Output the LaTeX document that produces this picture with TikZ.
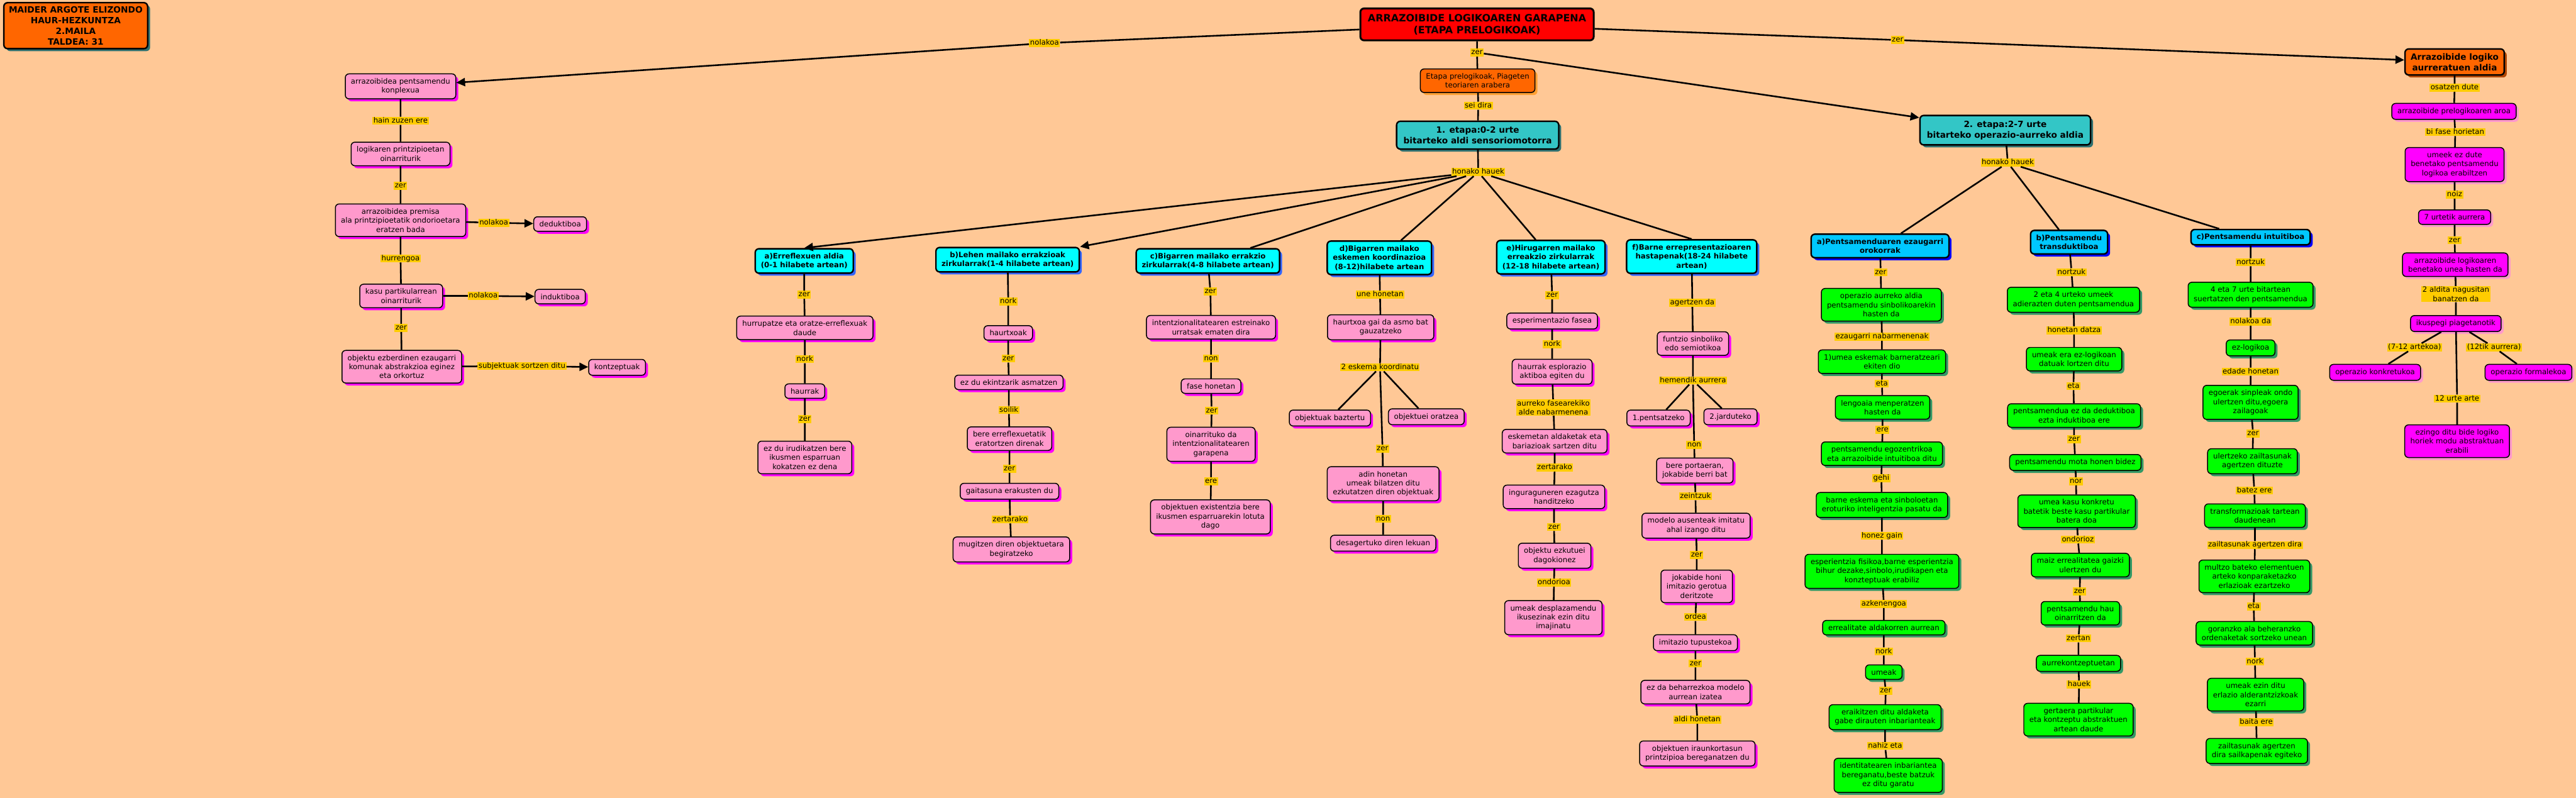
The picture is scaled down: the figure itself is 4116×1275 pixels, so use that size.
\documentclass[tikz,border=0pt]{standalone}
\usepackage{fontspec}
\setmainfont{DejaVu Sans}
\usetikzlibrary{arrows.meta,shadows}
\definecolor{bgpeach}{HTML}{FFC896}
\definecolor{lblgold}{HTML}{FFCC00}
\definecolor{cmpink}{HTML}{FF99CC}
\definecolor{cmmagenta}{HTML}{FF00FF}
\definecolor{cmgreen}{HTML}{00FF00}
\definecolor{cmgreenshade}{HTML}{339966}
\definecolor{cmcyan}{HTML}{00FFFF}
\definecolor{cmcyanshade}{HTML}{3366FF}
\definecolor{cmsky}{HTML}{00C8FF}
\definecolor{cmskyshade}{HTML}{0000FF}
\definecolor{cmteal}{HTML}{33C6C6}
\definecolor{cmtealshade}{HTML}{2F7070}
\definecolor{cmorange}{HTML}{FF6600}
\definecolor{cmorangeshade}{HTML}{FFA033}
\definecolor{cmbrown}{HTML}{B34700}
\definecolor{cmred}{HTML}{FF0000}
\newcommand{\cmfont}{\fontsize{11.8}{14.5}\selectfont}
\newcommand{\cmbold}{\fontsize{11.8}{14.5}\selectfont\bfseries}
\newcommand{\cmbig}{\fontsize{13.7}{17}\selectfont\bfseries}
\newcommand{\cmroot}{\fontsize{16}{19}\selectfont\bfseries}
\newcommand{\cmtitle}{\fontsize{13.8}{17}\selectfont\bfseries}

\begin{document}
\begin{tikzpicture}[x=1pt, y=-1pt,
  cmshadow/.style={drop shadow={shadow xshift=4pt, shadow yshift=-4pt, fill=#1, opacity=1}},
  concept/.style={rounded corners=6pt, draw=black, line width=1.5pt, align=center, inner xsep=9pt, inner ysep=7pt, font=\cmfont},
  pinkbox/.style={concept, fill=cmpink, cmshadow=cmmagenta},
  greenbox/.style={concept, fill=cmgreen, cmshadow=cmgreenshade},
  magbox/.style={concept, fill=cmmagenta, cmshadow=cmpink},
  headbox/.style={concept, line width=2.4pt, font=\cmbold},
  cyanhead/.style={headbox, fill=cmcyan, cmshadow=cmcyanshade},
  skyhead/.style={headbox, fill=cmsky, cmshadow=cmskyshade},
  etapabox/.style={headbox, fill=cmteal, font=\cmbig, inner xsep=11pt, inner ysep=8.5pt, cmshadow=cmtealshade},
  lbl/.style={fill=lblgold, inner xsep=1.5pt, inner ysep=0.5pt, font=\cmfont, text height=9pt, text depth=2.6pt},
  lbltwo/.style={fill=lblgold, inner xsep=1.5pt, inner ysep=1pt, font=\cmfont, align=center},
  link/.style={line width=2.6pt},
  arr/.style={link, -{Triangle[length=14pt,width=13pt]}}]

\fill[bgpeach] (0,0) rectangle (4116,1275);
\useasboundingbox (0,0) rectangle (4116,1275);

\node[headbox, font=\cmtitle, fill=cmorange, inner xsep=8pt, inner ysep=6pt, cmshadow=cmtealshade] (egilea) at (121,41)
  {MAIDER ARGOTE ELIZONDO\\HAUR-HEZKUNTZA\\2.MAILA\\TALDEA: 31};

\node[headbox, font=\cmroot, fill=cmred, line width=3pt, inner xsep=12pt, inner ysep=9pt] (garapena) at (2360,39)
  {ARRAZOIBIDE LOGIKOAREN GARAPENA\\(ETAPA PRELOGIKOAK)};
\node[lbl] (l1) at (1669,69) {nolakoa};
\node[lbl] (l2) at (2360,84) {zer};
\node[lbl] (l3) at (3032,64) {zer};
\node[concept, fill=cmorange, cmshadow=cmorangeshade] (prelog) at (2361,129) {Etapa prelogikoak, Piageten\\teoriaren arabera};
\node[lbl] (l4) at (2362,169) {sei dira};
\node[etapabox] (etapa1) at (2361,216) {1. etapa:0-2 urte\\bitarteko aldi sensoriomotorra};
\node[lbl] (l5) at (2362,275) {honako hauek};
\node[etapabox] (etapa2) at (3204,208) {2. etapa:2-7 urte\\bitarteko operazio-aurreko aldia};
\node[lbl] (l6) at (3208,260) {honako hauek};
\node[headbox, font=\cmbig, fill=cmorange, cmshadow=cmbrown] (aurreratu) at (3922,99) {Arrazoibide logiko\\aurreratuen aldia};

% ezkerreko zutabea
\node[pinkbox] (konplexua) at (640,138) {arrazoibidea pentsamendu\\konplexua};
\node[lbl] (l7) at (640,193) {hain zuzen ere};
\node[pinkbox] (printzipio) at (640,246) {logikaren printzipioetan\\oinarriturik};
\node[lbl] (l8) at (640,297) {zer};
\node[pinkbox] (premisa) at (640,352) {arrazoibidea premisa\\ala printzipioetatik ondorioetara\\eratzen bada};
\node[lbl] (l9) at (789,356) {nolakoa};
\node[pinkbox] (dedukt) at (895,358) {deduktiboa};
\node[lbl] (l10) at (640,413) {hurrengoa};
\node[pinkbox] (partikular) at (641,473) {kasu partikularrean\\oinarriturik};
\node[lbl] (l11) at (772,473) {nolakoa};
\node[pinkbox] (indukt) at (895,474) {induktiboa};
\node[lbl] (l12) at (641,524) {zer};
\node[pinkbox] (ezberdin) at (642,586) {objektu ezberdinen ezaugarri\\komunak abstrakzioa eginez\\eta orkortuz};
\node[lbl] (l13) at (834,585) {subjektuak sortzen ditu};
\node[pinkbox] (kontzeptu) at (986,587) {kontzeptuak};

% 1. etapako azpialdiak
\node[cyanhead] (sa) at (1285,417) {a)Erreflexuen aldia\\(0-1 hilabete artean)};
\node[cyanhead] (sb) at (1610,415) {b)Lehen mailako errakzioak\\zirkularrak(1-4 hilabete artean)};
\node[cyanhead] (sc) at (1930,417) {c)Bigarren mailako errakzio\\zirkularrak(4-8 hilabete artean)};
\node[cyanhead] (sd) at (2204,412) {d)Bigarren mailako\\eskemen koordinazioa\\(8-12)hilabete artean};
\node[cyanhead] (se) at (2478,411) {e)Hirugarren mailako\\erreakzio zirkularrak\\(12-18 hilabete artean)};
\node[cyanhead] (sf) at (2703,410) {f)Barne errepresentazioaren\\hastapenak(18-24 hilabete\\artean)};

\node[lbl] (l14) at (1285,471) {zer};
\node[pinkbox] (hurrupatze) at (1286,524) {hurrupatze eta oratze-erreflexuak\\daude};
\node[lbl] (l15) at (1286,574) {nork};
\node[pinkbox] (haurrak) at (1286,625) {haurrak};
\node[lbl] (l16) at (1286,670) {zer};
\node[pinkbox] (irudikatu) at (1286,731) {ez du irudikatzen bere\\ikusmen esparruan\\kokatzen ez dena};

\node[lbl] (l17) at (1611,482) {nork};
\node[pinkbox] (haurtxoak) at (1611,532) {haurtxoak};
\node[lbl] (l18) at (1611,573) {zer};
\node[pinkbox] (asmatu) at (1612,611) {ez du ekintzarik asmatzen};
\node[lbl] (l19) at (1612,655) {soilik};
\node[pinkbox] (eratorri) at (1613,701) {bere erreflexuetatik\\eratortzen direnak};
\node[lbl] (l20) at (1613,749) {zer};
\node[pinkbox] (gaitasuna) at (1613,785) {gaitasuna erakusten du};
\node[lbl] (l21) at (1614,830) {zertarako};
\node[pinkbox] (begiratu) at (1616,878) {mugitzen diren objektuetara\\begiratzeko};

\node[lbl] (l22) at (1934,466) {zer};
\node[pinkbox] (urratsak) at (1935,523) {intentzionalitatearen estreinako\\urratsak ematen dira};
\node[lbl] (l23) at (1935,573) {non};
\node[pinkbox] (fasehon) at (1935,617) {fase honetan};
\node[lbl] (l24) at (1936,656) {zer};
\node[pinkbox] (intentzio) at (1935,710) {oinarrituko da\\intentzionalitatearen\\garapena};
\node[lbl] (l25) at (1935,769) {ere};
\node[pinkbox] (existentzia) at (1934,826) {objektuen existentzia bere\\ikusmen esparruarekin lotuta\\dago};

\node[lbl] (l26) at (2205,471) {une honetan};
\node[pinkbox] (asmo) at (2206,523) {haurtxoa gai da asmo bat\\gauzatzeko};
\node[lbl] (l27) at (2205,587) {2 eskema koordinatu};
\node[pinkbox] (baztertu) at (2125,668) {objektuak baztertu};
\node[pinkbox] (oratu) at (2279,666) {objektuei oratzea};
\node[lbl] (l28) at (2209,717) {zer};
\node[pinkbox] (bilatu) at (2210,773) {adin honetan\\umeak bilatzen ditu\\ezkutatzen diren objektuak};
\node[lbl] (l29) at (2210,829) {non};
\node[pinkbox] (lekua) at (2210,868) {desagertuko diren lekuan};

\node[lbl] (l30) at (2480,472) {zer};
\node[pinkbox] (esperim) at (2480,513) {esperimentazio fasea};
\node[lbl] (l31) at (2480,550) {nork};
\node[pinkbox] (esplor) at (2480,594) {haurrak esplorazio\\aktiboa egiten du};
\node[lbltwo] (l32) at (2482,651) {aurreko fasearekiko\\alde nabarmenena};
\node[pinkbox] (aldaketak) at (2484,705) {eskemetan aldaketak eta\\bariazioak sartzen ditu};
\node[lbl] (l33) at (2484,747) {zertarako};
\node[pinkbox] (ingurune) at (2483,794) {inguraguneren ezagutza\\handitzeko};
\node[lbl] (l34) at (2483,842) {zer};
\node[pinkbox] (ezkutu) at (2484,888) {objektu ezkutuei\\dagokionez};
\node[lbl] (l35) at (2483,931) {ondorioa};
\node[pinkbox] (desplaz) at (2482,987) {umeak desplazamendu\\ikusezinak ezin ditu\\imajinatu};

\node[lbl] (l36) at (2704,484) {agertzen da};
\node[pinkbox] (funtzio) at (2705,549) {funtzio sinboliko\\edo semiotikoa};
\node[lbl] (l37) at (2705,608) {hemendik aurrera};
\node[pinkbox] (pentsatu) at (2650,668) {1.pentsatzeko};
\node[pinkbox] (jardun) at (2765,666) {2.jarduteko};
\node[lbl] (l38) at (2707,711) {non};
\node[pinkbox] (portaera) at (2708,752) {bere portaeran,\\jokabide berri bat};
\node[lbl] (l39) at (2709,793) {zeintzuk};
\node[pinkbox] (ausente) at (2710,840) {modelo ausenteak imitatu\\ahal izango ditu};
\node[lbl] (l40) at (2711,887) {zer};
\node[pinkbox] (gerotua) at (2711,937) {jokabide honi\\imitazio gerotua\\deritzote};
\node[lbl] (l41) at (2709,986) {ordea};
\node[pinkbox] (tupust) at (2709,1027) {imitazio tupustekoa};
\node[lbl] (l42) at (2709,1060) {zer};
\node[pinkbox] (beharrezko) at (2709,1106) {ez da beharrezkoa modelo\\aurrean izatea};
\node[lbl] (l43) at (2712,1150) {aldi honetan};
\node[pinkbox] (iraunkor) at (2712,1204) {objektuen iraunkortasun\\printzipioa bereganatzen du};

% 2. etapa
\node[skyhead] (pa) at (3004,393) {a)Pentsamenduaren ezaugarri\\orokorrak};
\node[skyhead] (pb) at (3306,387) {b)Pentsamendu\\transduktiboa};
\node[skyhead] (pc) at (3596,379) {c)Pentsamendu intuitiboa};

\node[lbl] (l44) at (3005,435) {zer};
\node[greenbox] (sinbol) at (3006,487) {operazio aurreko aldia\\pentsamendu sinbolikoarekin\\hasten da};
\node[lbl] (l45) at (3007,538) {ezaugarri nabarmenenak};
\node[greenbox] (barneratu) at (3007,578) {1)umea eskemak barneratzeari\\ekiten dio};
\node[lbl] (l46) at (3007,613) {eta};
\node[greenbox] (lengoaia) at (3008,651) {lengoaia menperatzen\\hasten da};
\node[lbl] (l47) at (3008,687) {ere};
\node[greenbox] (egozentr) at (3007,725) {pentsamendu egozentrikoa\\eta arrazoibide intuitiboa ditu};
\node[lbl] (l48) at (3006,764) {gehi};
\node[greenbox] (barneesk) at (3007,807) {barne eskema eta sinboloetan\\eroturiko inteligentzia pasatu da};
\node[lbl] (l49) at (3007,856) {honez gain};
\node[greenbox] (esperient) at (3007,913) {esperientzia fisikoa,barne esperientzia\\bihur dezake,sinbolo,irudikapen eta\\konzteptuak erabiliz};
\node[lbl] (l50) at (3010,965) {azkenengoa};
\node[greenbox] (aldakor) at (3010,1003) {errealitate aldakorren aurrean};
\node[lbl] (l51) at (3010,1041) {nork};
\node[greenbox] (umeak) at (3010,1074) {umeak};
\node[lbl] (l52) at (3013,1104) {zer};
\node[greenbox] (inbariant) at (3012,1146) {eraikitzen ditu aldaketa\\gabe dirauten inbarianteak};
\node[lbl] (l53) at (3012,1192) {nahiz eta};
\node[greenbox] (identitate) at (3017,1239) {identitatearen inbariantea\\bereganatu,beste batzuk\\ez ditu garatu};

\node[lbl] (l54) at (3310,435) {nortzuk};
\node[greenbox] (biurte) at (3313,479) {2 eta 4 urteko umeek\\adierazten duten pentsamendua};
\node[lbl] (l55) at (3314,528) {honetan datza};
\node[greenbox] (ezlogik) at (3314,574) {umeak era ez-logikoan\\datuak lortzen ditu};
\node[lbl] (l56) at (3313,617) {eta};
\node[greenbox] (ezdedukt) at (3314,664) {pentsamendua ez da deduktiboa\\ezta induktiboa ere};
\node[lbl] (l57) at (3314,702) {zer};
\node[greenbox] (motahon) at (3316,739) {pentsamendu mota honen bidez};
\node[lbl] (l58) at (3317,769) {nor};
\node[greenbox] (konkretu) at (3318,817) {umea kasu konkretu\\batetik beste kasu partikular\\batera doa};
\node[lbl] (l59) at (3320,862) {ondorioz};
\node[greenbox] (gaizki) at (3324,903) {maiz errealitatea gaizki\\ulertzen du};
\node[lbl] (l60) at (3323,945) {zer};
\node[greenbox] (oinarri) at (3324,980) {pentsamendu hau\\oinarritzen da};
\node[lbl] (l61) at (3321,1020) {zertan};
\node[greenbox] (aurrekontz) at (3321,1060) {aurrekontzeptuetan};
\node[lbl] (l62) at (3322,1094) {hauek};
\node[greenbox] (abstrakt) at (3321,1150) {gertaera partikular\\eta kontzeptu abstraktuen\\artean daude};

\node[lbl] (l63) at (3596,419) {nortzuk};
\node[greenbox] (lauzazpi) at (3596,471) {4 eta 7 urte bitartean\\suertatzen den pentsamendua};
\node[lbl] (l64) at (3596,514) {nolakoa da};
\node[greenbox] (ezlogiko) at (3596,556) {ez-logikoa};
\node[lbl] (l65) at (3596,594) {edade honetan};
\node[greenbox] (sinple) at (3596,643) {egoerak sinpleak ondo\\ulertzen ditu,egoera\\zailagoak};
\node[lbl] (l66) at (3600,693) {zer};
\node[greenbox] (zailtasun) at (3599,737) {ulertzeko zailtasunak\\agertzen dituzte};
\node[lbl] (l67) at (3602,784) {batez ere};
\node[greenbox] (transform) at (3603,824) {transformazioak tartean\\daudenean};
\node[lbl] (l68) at (3603,871) {zailtasunak agertzen dira};
\node[greenbox] (multzo) at (3602,921) {multzo bateko elementuen\\arteko konparaketazko\\erlazioak ezartzeko};
\node[lbl] (l69) at (3601,969) {eta};
\node[greenbox] (ordenak) at (3602,1012) {goranzko ala beheranzko\\ordenaketak sortzeko unean};
\node[lbl] (l70) at (3603,1057) {nork};
\node[greenbox] (alderantz) at (3604,1110) {umeak ezin ditu\\erlazio alderantzizkoak\\ezarri};
\node[lbl] (l71) at (3605,1154) {baita ere};
\node[greenbox] (sailkapen) at (3606,1200) {zailtasunak agertzen\\dira sailkapenak egiteko};

% eskuineko zutabea
\node[lbl] (l72) at (3922,140) {osatzen dute};
\node[magbox] (aroa) at (3921,178) {arrazoibide prelogikoaren aroa};
\node[lbl] (l73) at (3923,211) {bi fase horietan};
\node[magbox] (benetako) at (3922,263) {umeek ez dute\\benetako pentsamendu\\logikoa erabiltzen};
\node[lbl] (l74) at (3922,311) {noiz};
\node[magbox] (zazpitik) at (3922,347) {7 urtetik aurrera};
\node[lbl] (l75) at (3922,384) {zer};
\node[magbox] (unea) at (3923,423) {arrazoibide logikoaren\\benetako unea hasten da};
\node[lbltwo] (l76) at (3924,470) {2 aldita nagusitan\\banatzen da};
\node[magbox] (ikuspegi) at (3924,517) {ikuspegi piagetanotik};
\node[lbl] (l77) at (3858,555) {(7-12 artekoa)};
\node[lbl] (l78) at (3985,555) {(12tik aurrera)};
\node[magbox] (konkretuk) at (3795,595) {operazio konkretukoa};
\node[magbox] (formal) at (4040,595) {operazio formalekoa};
\node[lbl] (l79) at (3926,637) {12 urte arte};
\node[magbox] (ezingo) at (3926,705) {ezingo ditu bide logiko\\horiek modu abstraktuan\\erabili};

% loturak
\draw[link] (garapena) -- (l1); \draw[arr] (l1) -- (konplexua);
\draw[link] (garapena) -- (l2) -- (prelog) -- (l4) -- (etapa1) -- (l5);
\draw[arr] (l2) -- (etapa2);
\draw[link] (garapena) -- (l3); \draw[arr] (l3) -- (aurreratu);

\draw[link] (konplexua) -- (l7) -- (printzipio) -- (l8) -- (premisa) -- (l10) -- (partikular) -- (l12) -- (ezberdin);
\draw[link] (premisa) -- (l9); \draw[arr] (l9) -- (dedukt);
\draw[link] (partikular) -- (l11); \draw[arr] (l11) -- (indukt);
\draw[link] (ezberdin) -- (l13); \draw[arr] (l13) -- (kontzeptu);

\draw[arr] (l5) -- (sa.north); \draw[arr] (l5) -- (sb.north east);
\draw[link] (l5) -- (sc.17); \draw[link] (l5) -- (sd.39);
\draw[link] (l5) -- (se.131); \draw[link] (l5) -- (sf.north);

\draw[link] (sa) -- (l14) -- (hurrupatze) -- (l15) -- (haurrak) -- (l16) -- (irudikatu);
\draw[link] (sb) -- (l17) -- (haurtxoak) -- (l18) -- (asmatu) -- (l19) -- (eratorri) -- (l20) -- (gaitasuna) -- (l21) -- (begiratu);
\draw[link] (sc) -- (l22) -- (urratsak) -- (l23) -- (fasehon) -- (l24) -- (intentzio) -- (l25) -- (existentzia);
\draw[link] (sd) -- (l26) -- (asmo) -- (l27) -- (l28) -- (bilatu) -- (l29) -- (lekua);
\draw[link] (l27) -- (baztertu); \draw[link] (l27) -- (oratu);
\draw[link] (se) -- (l30) -- (esperim) -- (l31) -- (esplor) -- (l32) -- (aldaketak) -- (l33) -- (ingurune) -- (l34) -- (ezkutu) -- (l35) -- (desplaz);
\draw[link] (sf) -- (l36) -- (funtzio) -- (l37) -- (l38) -- (portaera) -- (l39) -- (ausente) -- (l40) -- (gerotua) -- (l41) -- (tupust) -- (l42) -- (beharrezko) -- (l43) -- (iraunkor);
\draw[link] (l37) -- (pentsatu); \draw[link] (l37) -- (jardun);

\draw[link] (etapa2) -- (l6);
\draw[link] (l6) -- (pa.31); \draw[link] (l6) -- (pb.129); \draw[link] (l6) -- (pc.165);
\draw[link] (pa) -- (l44) -- (sinbol) -- (l45) -- (barneratu) -- (l46) -- (lengoaia) -- (l47) -- (egozentr) -- (l48) -- (barneesk) -- (l49) -- (esperient) -- (l50) -- (aldakor) -- (l51) -- (umeak) -- (l52) -- (inbariant) -- (l53) -- (identitate);
\draw[link] (pb) -- (l54) -- (biurte) -- (l55) -- (ezlogik) -- (l56) -- (ezdedukt) -- (l57) -- (motahon) -- (l58) -- (konkretu) -- (l59) -- (gaizki) -- (l60) -- (oinarri) -- (l61) -- (aurrekontz) -- (l62) -- (abstrakt);
\draw[link] (pc) -- (l63) -- (lauzazpi) -- (l64) -- (ezlogiko) -- (l65) -- (sinple) -- (l66) -- (zailtasun) -- (l67) -- (transform) -- (l68) -- (multzo) -- (l69) -- (ordenak) -- (l70) -- (alderantz) -- (l71) -- (sailkapen);

\draw[link] (aurreratu) -- (l72) -- (aroa) -- (l73) -- (benetako) -- (l74) -- (zazpitik) -- (l75) -- (unea) -- (l76) -- (ikuspegi) -- (l79) -- (ezingo);
\draw[link] (ikuspegi) -- (l77) -- (konkretuk);
\draw[link] (ikuspegi) -- (l78) -- (formal);
\end{tikzpicture}
\end{document}
